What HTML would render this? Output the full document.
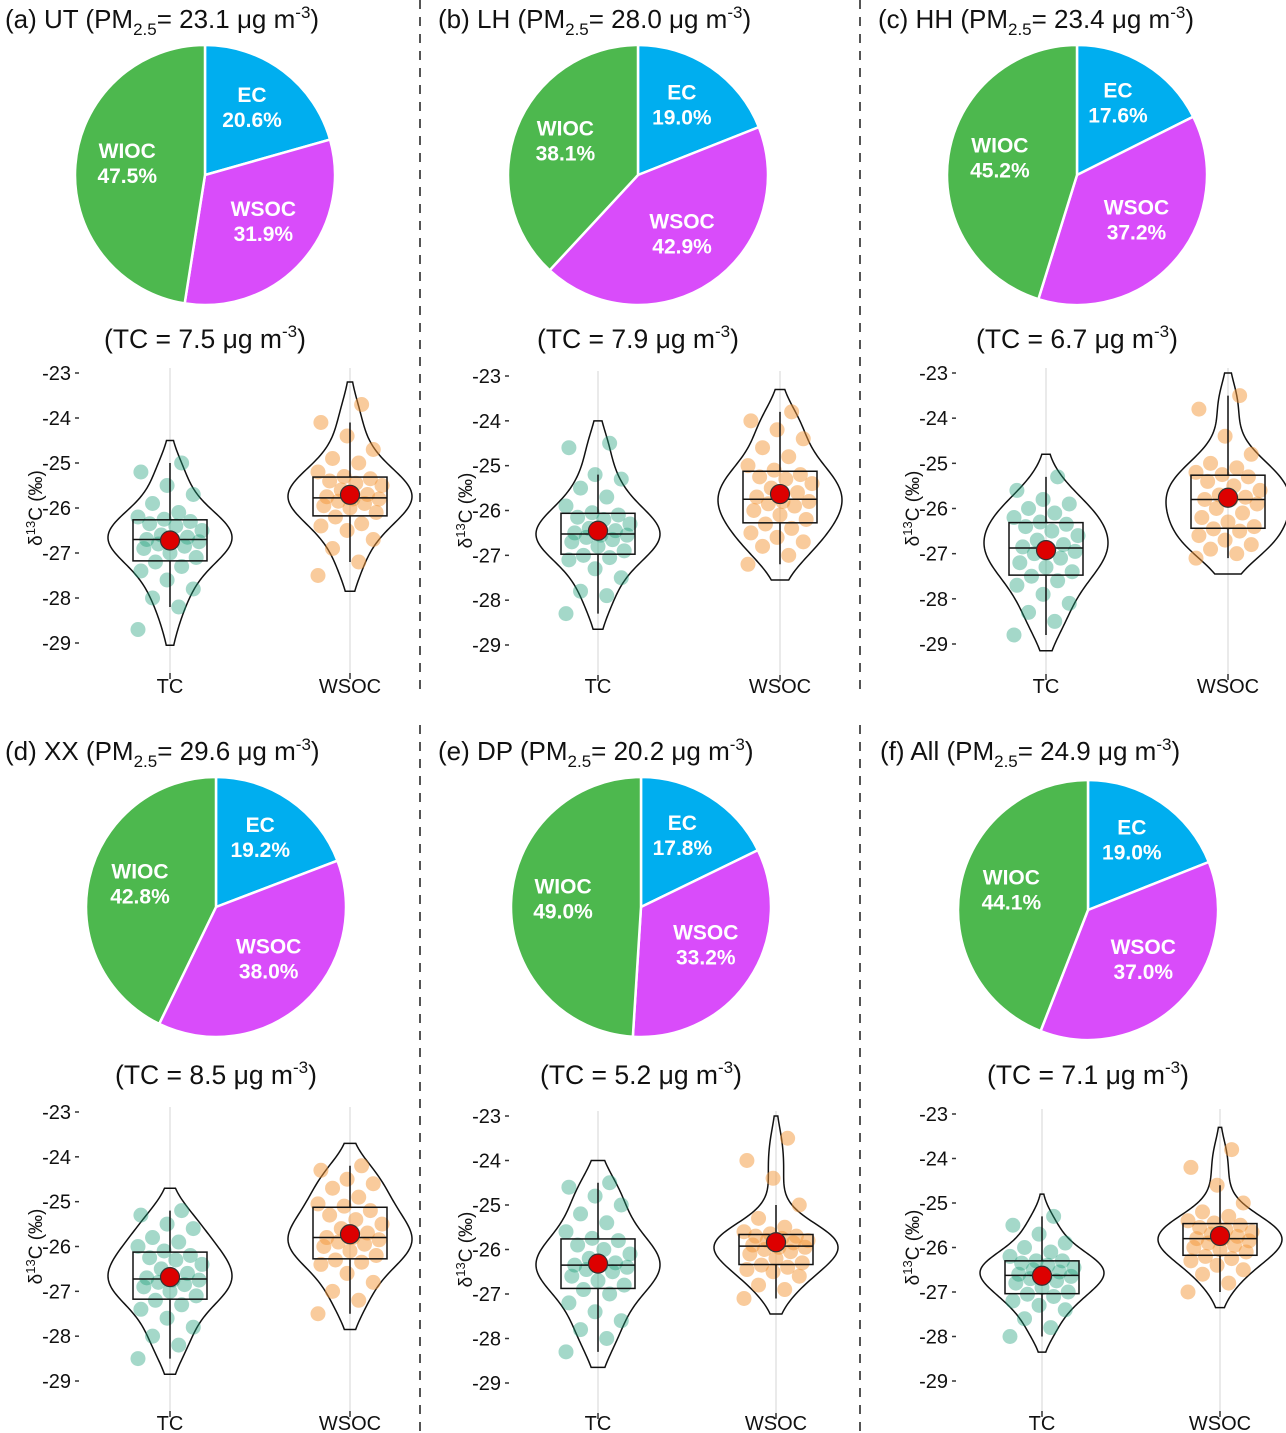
<!DOCTYPE html>
<html><head><meta charset="utf-8">
<style>
html,body{margin:0;padding:0;background:#fff;}
svg{display:block;font-family:"Liberation Sans",Arial,sans-serif;}
</style></head>
<body>
<svg id="fig" width="1286" height="1433" viewBox="0 0 1286 1433" xmlns="http://www.w3.org/2000/svg">
<line x1="420" y1="0" x2="420" y2="690" stroke="#555" stroke-width="2" stroke-dasharray="9,8"/>
<line x1="860" y1="0" x2="860" y2="690" stroke="#555" stroke-width="2" stroke-dasharray="9,8"/>
<line x1="420" y1="725" x2="420" y2="1433" stroke="#555" stroke-width="2" stroke-dasharray="9,8"/>
<line x1="860" y1="725" x2="860" y2="1433" stroke="#555" stroke-width="2" stroke-dasharray="9,8"/>
</svg>
<script>
const panelLabels=["(a) UT","(b) LH","(c) HH","(d) XX","(e) DP","(f) All"];
const pmValues=["23.1","28.0","23.4","29.6","20.2","24.9"];
const tcValues=["7.5","7.9","6.7","8.5","5.2","7.1"];
const ecPct=[20.6,19.0,17.6,19.2,17.8,19.0];
const wsocPct=[31.9,42.9,37.2,38.0,33.2,37.0];
const wiocPct=[47.5,38.1,45.2,42.8,49.0,44.1];
const yTicks=[-23,-24,-25,-26,-27,-28,-29];
const groups=["TC","WSOC"];
const tcData=[
[-28.7,-28.2,-28.0,-27.8,-27.6,-27.4,-27.3,-27.2,-27.1,-27.0,-26.9,-26.85,-26.8,-26.75,-26.7,-26.7,-26.65,-26.6,-26.5,-26.4,-26.35,-26.3,-26.25,-26.2,-26.1,-25.9,-25.7,-25.5,-25.2,-25.0],
[-28.3,-27.9,-27.8,-27.5,-27.3,-27.1,-27.05,-27.0,-26.9,-26.8,-26.7,-26.65,-26.6,-26.55,-26.55,-26.5,-26.45,-26.4,-26.3,-26.2,-26.15,-26.1,-26.05,-25.9,-25.7,-25.5,-25.3,-25.2,-24.6,-24.5],
[-28.8,-28.5,-28.3,-28.1,-27.9,-27.7,-27.6,-27.5,-27.4,-27.3,-27.2,-27.1,-27.0,-26.95,-26.9,-26.85,-26.8,-26.7,-26.6,-26.5,-26.4,-26.35,-26.3,-26.2,-26.1,-26.0,-25.9,-25.8,-25.6,-25.3],
[-28.5,-28.2,-28.0,-27.8,-27.6,-27.4,-27.3,-27.2,-27.1,-27.0,-26.9,-26.85,-26.8,-26.75,-26.75,-26.7,-26.6,-26.5,-26.4,-26.3,-26.25,-26.2,-26.1,-26.0,-25.9,-25.8,-25.6,-25.5,-25.3,-25.2],
[-28.3,-28.0,-27.8,-27.6,-27.4,-27.2,-27.0,-26.9,-26.8,-26.7,-26.6,-26.5,-26.45,-26.4,-26.35,-26.35,-26.3,-26.2,-26.1,-26.0,-25.9,-25.8,-25.75,-25.6,-25.4,-25.2,-25.0,-24.8,-24.6,-24.5],
[-28.0,-27.8,-27.6,-27.4,-27.3,-27.2,-27.1,-27.05,-27.0,-26.9,-26.8,-26.75,-26.7,-26.65,-26.65,-26.6,-26.55,-26.5,-26.45,-26.4,-26.35,-26.3,-26.3,-26.2,-26.1,-26.0,-25.9,-25.7,-25.5,-25.3]];
const wsocData=[
[-27.5,-27.2,-26.9,-26.7,-26.5,-26.4,-26.35,-26.2,-26.1,-26.0,-25.95,-25.9,-25.85,-25.8,-25.8,-25.75,-25.7,-25.6,-25.5,-25.45,-25.4,-25.35,-25.3,-25.2,-25.0,-24.9,-24.7,-24.4,-24.1,-23.7],
[-27.2,-27.0,-26.8,-26.7,-26.6,-26.5,-26.4,-26.3,-26.2,-26.1,-26.0,-25.9,-25.85,-25.8,-25.8,-25.7,-25.6,-25.5,-25.4,-25.3,-25.25,-25.2,-25.1,-25.0,-24.8,-24.6,-24.4,-24.2,-24.0,-23.8],
[-27.1,-27.0,-26.9,-26.8,-26.7,-26.6,-26.5,-26.45,-26.4,-26.3,-26.2,-26.1,-26.0,-25.9,-25.8,-25.8,-25.75,-25.7,-25.6,-25.5,-25.4,-25.3,-25.25,-25.2,-25.1,-25.0,-24.8,-24.4,-23.8,-23.5],
[-27.5,-27.2,-27.0,-26.8,-26.6,-26.4,-26.35,-26.3,-26.2,-26.1,-26.0,-25.95,-25.9,-25.85,-25.8,-25.8,-25.7,-25.6,-25.5,-25.4,-25.3,-25.2,-25.1,-25.05,-24.9,-24.7,-24.6,-24.5,-24.3,-24.2],
[-27.1,-26.9,-26.8,-26.6,-26.5,-26.45,-26.4,-26.35,-26.3,-26.2,-26.1,-26.05,-26.0,-25.95,-25.95,-25.9,-25.85,-25.8,-25.8,-25.75,-25.7,-25.7,-25.65,-25.6,-25.5,-25.3,-25.0,-24.4,-24.0,-23.5],
[-27.0,-26.8,-26.6,-26.5,-26.4,-26.3,-26.25,-26.2,-26.1,-26.05,-26.0,-25.95,-25.9,-25.85,-25.8,-25.8,-25.75,-25.7,-25.65,-25.6,-25.55,-25.5,-25.45,-25.4,-25.3,-25.2,-25.0,-24.6,-24.2,-23.8]];

// layout (positions, not data)
const layout=[
{tx:5,ty:28,cx:205,cy:175,tcy:348,ax:78,y23:373,y29:643,x1:170,x2:350,xl:693},
{tx:438,ty:28,cx:638,cy:175,tcy:348,ax:508,y23:376,y29:645,x1:598,x2:780,xl:693},
{tx:878,ty:28,cx:1077,cy:175,tcy:348,ax:955,y23:373,y29:644,x1:1046,x2:1228,xl:693},
{tx:5,ty:760,cx:216,cy:907,tcy:1084,ax:78,y23:1112,y29:1381,x1:170,x2:350,xl:1430},
{tx:438,ty:760,cx:641,cy:907,tcy:1084,ax:508,y23:1116,y29:1383,x1:598,x2:776,xl:1430},
{tx:880,ty:760,cx:1088,cy:910,tcy:1084,ax:955,y23:1114,y29:1381,x1:1042,x2:1220,xl:1430}];
const NS="http://www.w3.org/2000/svg";
const svg=document.getElementById('fig');
function mk(tag,attrs,parent){const e=document.createElementNS(NS,tag);for(const k in attrs)e.setAttribute(k,attrs[k]);(parent||svg).appendChild(e);return e;}
function quant(s,p){const i=(s.length-1)*p,lo=Math.floor(i),hi=Math.ceil(i);return s[lo]+(s[hi]-s[lo])*(i-lo);}
const R=130;
layout.forEach((L,pi)=>{
  const g=mk('g',{});
  
  
  const t=mk('text',{x:L.tx,y:L.ty,'font-size':26,fill:'#111'},g);
  
  
  t.innerHTML=panelLabels[pi]+' (PM<tspan font-size="17" dy="7">2.5</tspan><tspan dy="-7">= '+pmValues[pi]+' μg m</tspan><tspan font-size="17" dy="-10">-3</tspan><tspan dy="10">)</tspan>';
  const slices=[{n:'EC',v:ecPct[pi],c:'#00AEEF'},{n:'WSOC',v:wsocPct[pi],c:'#D94CFA'},{n:'WIOC',v:wiocPct[pi],c:'#4DB84E'}];
  const tot=slices.reduce((a,s)=>a+s.v,0);
  let a0=0;
  slices.forEach(s=>{
    const a1=a0+s.v/tot*2*Math.PI;
    const p=(a)=>[L.cx+R*Math.sin(a),L.cy-R*Math.cos(a)];
    const [x0,y0]=p(a0),[x1,y1]=p(a1);
    const path=mk('path',{d:`M${L.cx},${L.cy}L${x0},${y0}A${R},${R} 0 ${a1-a0>Math.PI?1:0} 1 ${x1},${y1}Z`,fill:s.c,stroke:'#fff','stroke-width':2.5},g);
    
    
    const am=(a0+a1)/2, rr=R*0.6;
    const lx=L.cx+rr*Math.sin(am), ly=L.cy-rr*Math.cos(am);
    const lt=mk('text',{x:lx,y:ly-11,'font-size':21,'font-weight':'bold',fill:'#fff','text-anchor':'middle'},g);
    
    
    lt.innerHTML=s.n+'<tspan x="'+lx+'" dy="25">'+s.v.toFixed(1)+'%</tspan>';
    a0=a1;
  });
  const tc=mk('text',{x:L.cx,y:L.tcy,'font-size':26.5,fill:'#111','text-anchor':'middle'},g);
  
  
  tc.innerHTML='(TC = '+tcValues[pi]+' μg m<tspan font-size="17" dy="-11">-3</tspan><tspan dy="11">)</tspan>';
  const ys=v=>L.y23+(v-(-23))/(-29-(-23))*(L.y29-L.y23);
  yTicks.forEach(v=>{
    const tl=mk('text',{x:L.ax-7,y:ys(v)+7,'font-size':20,fill:'#111','text-anchor':'end'},g);
    
    
    tl.textContent=v;
    const tk=mk('line',{x1:L.ax-3,x2:L.ax+1,y1:ys(v),y2:ys(v),stroke:'#333','stroke-width':1.5},g);
    
    
  });
  const yt=mk('text',{x:0,y:0,'font-size':19,fill:'#111','text-anchor':'middle',transform:`translate(${L.ax-22-14},${(L.y23+L.y29)/2}) rotate(-90)`},g);
  
  
  yt.innerHTML='δ<tspan font-size="13" dy="-7">13</tspan><tspan dy="7">C (‰)</tspan>';
  const datasets=[tcData[pi],wsocData[pi]];
  const xs=[L.x1,L.x2];
  const colors=['#1B9E77','#F4983A'];
  const alphas=[0.4,0.5];
  datasets.forEach((d,gi)=>{
    const x=xs[gi];
    const gl=mk('line',{x1:x,x2:x,y1:L.y23-5,y2:L.y29+35,stroke:'#ddd','stroke-width':1.2},g);
    
    
    const xt=mk('line',{x1:x,x2:x,y1:L.y29+30,y2:L.y29+36,stroke:'#333','stroke-width':1.5},g);
    
    
    const xl=mk('text',{x:x,y:L.xl,'font-size':20,fill:'#111','text-anchor':'middle'},g);
    
    
    xl.textContent=groups[gi];
    const s=[...d].sort((a,b)=>a-b);
    const n=s.length, mean=s.reduce((a,b)=>a+b,0)/n;
    const sd=Math.sqrt(s.reduce((a,b)=>a+(b-mean)**2,0)/(n-1));
    const bw=1.0*sd*Math.pow(n,-0.2);
    const lo=s[0]-0.35, hi=s[n-1]+0.5;
    const pts=[];let mx=0;
    for(let k=0;k<=100;k++){const v=lo+(hi-lo)*k/100;let dd=0;s.forEach(u=>dd+=Math.exp(-0.5*((v-u)/bw)**2));pts.push([v,dd]);if(dd>mx)mx=dd;}
    const W=62;
    let dpath='M'+pts.map(p=>`${x+p[1]/mx*W},${ys(p[0])}`).join('L')+'L'+pts.slice().reverse().map(p=>`${x-p[1]/mx*W},${ys(p[0])}`).join('L')+'Z';
    const vio=mk('path',{d:dpath,fill:'none',stroke:'#111','stroke-width':1.5},g);
    
    
    d.forEach((v,i)=>{
      const jit=(((i*37)%23)/22-0.5)*2*32;
      const c=mk('circle',{cx:x+jit,cy:ys(v),r:7.5,fill:colors[gi],'fill-opacity':alphas[gi]},g);
      
      
    });
    const q1=quant(s,0.25),md=quant(s,0.5),q3=quant(s,0.75),iqr=q3-q1;
    const wl=s.find(v=>v>=q1-1.5*iqr), wh=[...s].reverse().find(v=>v<=q3+1.5*iqr);
    const bw2=37;
    const wk=mk('path',{d:`M${x},${ys(wh)}V${ys(q3)}M${x},${ys(q1)}V${ys(wl)}`,stroke:'#111','stroke-width':1.5},g);
    
    
    const bx=mk('rect',{x:x-bw2,y:ys(q3),width:2*bw2,height:ys(q1)-ys(q3),fill:'none',stroke:'#111','stroke-width':1.5},g);
    
    
    const ml=mk('line',{x1:x-bw2,x2:x+bw2,y1:ys(md),y2:ys(md),stroke:'#111','stroke-width':1.5},g);
    
    
    const mp=mk('circle',{cx:x,cy:ys(mean),r:9.5,fill:'#DD0000',stroke:'#333','stroke-width':1.2},g);
    
    
  });
});
</script>
</body></html>
